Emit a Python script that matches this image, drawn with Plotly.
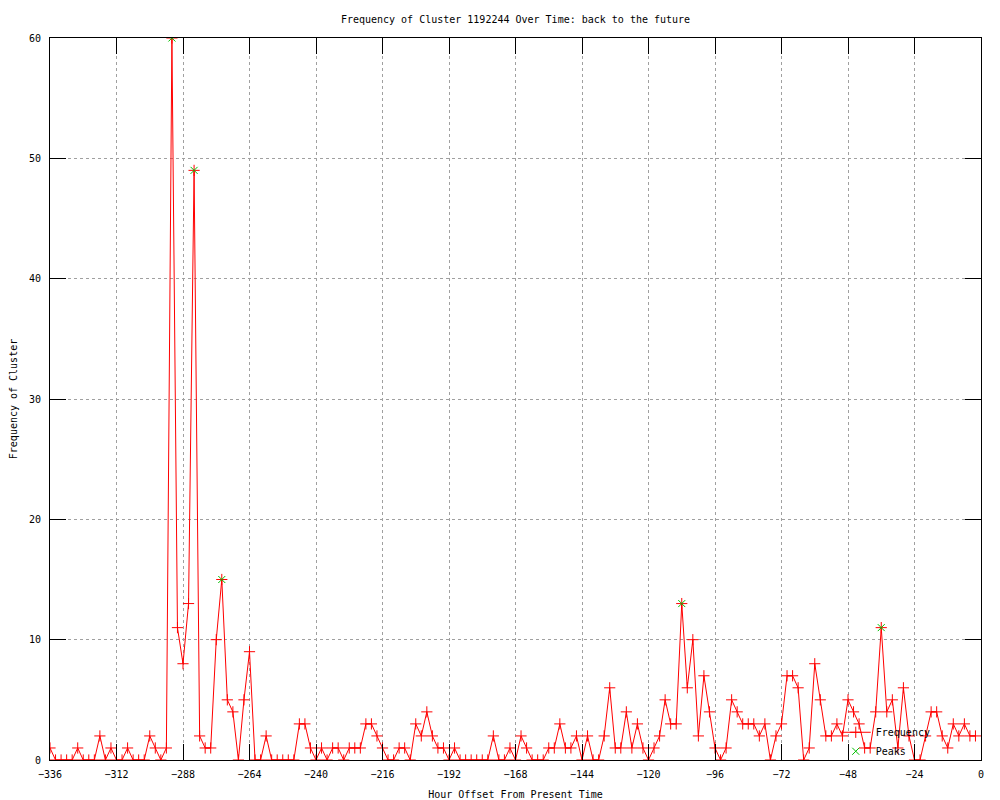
import plotly.graph_objects as go

# Hour offsets (every 2 hours) and cluster frequency
hours = list(range(-336, 0, 2))
frequency = [
    1, 0, 0, 0, 0, 1, 0, 0, 0, 2,
    0, 1, 0, 0, 1, 0, 0, 0, 2, 1,
    0, 1, 60, 11, 8, 13, 49, 2, 1, 1,
    10, 15, 5, 4, 0, 5, 9, 0, 0, 2,
    0, 0, 0, 0, 0, 3, 3, 1, 0, 1,
    0, 1, 1, 0, 1, 1, 1, 3, 3, 2,
    1, 0, 0, 1, 1, 0, 3, 2, 4, 2,
    1, 1, 0, 1, 0, 0, 0, 0, 0, 0,
    2, 0, 0, 1, 0, 2, 1, 0, 0, 0,
    1, 1, 3, 1, 1, 2, 0, 2, 0, 0,
    2, 6, 1, 1, 4, 1, 3, 1, 0, 1,
    2, 5, 3, 3, 13, 6, 10, 2, 7, 4,
    1, 0, 1, 5, 4, 3, 3, 3, 2, 3,
    0, 2, 3, 7, 7, 6, 0, 1, 8, 5,
    2, 2, 3, 2, 5, 4, 3, 1, 1, 4,
    11, 4, 5, 1, 6, 2, 0, 0, 2, 4,
    4, 2, 1, 3, 2, 3, 2, 2,
]
peak_hours = [-292, -284, -274, -108, -36]
peak_values = [60, 49, 15, 13, 11]

x_ticks = list(range(-336, 1, 24))
y_ticks = list(range(0, 61, 10))

FONT = "DejaVu Sans Mono"
W, H = 992, 792  # page body has an 8px margin

fig = go.Figure()
fig.add_trace(go.Scatter(
    x=hours, y=frequency, name="Frequency", mode="lines+markers",
    line=dict(color="#ff0000", width=1),
    marker=dict(symbol="cross-thin-open", size=8,
                line=dict(color="#ff0000", width=1), color="#ff0000"),
))
fig.add_trace(go.Scatter(
    x=peak_hours, y=peak_values, name="Peaks", mode="markers",
    marker=dict(symbol="x-thin-open", size=7,
                line=dict(color="#00c000", width=1), color="#00c000"),
))

axis_common = dict(
    showline=True, linecolor="black", linewidth=1, mirror="ticks",
    ticks="inside", ticklen=16, tickcolor="black", tickwidth=1,
    showgrid=True, gridcolor="#a0a0a0", griddash="dot", gridwidth=1,
    zeroline=False, automargin=False,
    tickfont=dict(family=FONT, size=10, color="black"),
)

fig.update_layout(
    width=W, height=H,
    paper_bgcolor="white", plot_bgcolor="white",
    margin=dict(l=42, r=19, t=30, b=40, autoexpand=False),
    title=dict(text="Frequency of Cluster 1192244 Over Time: back to the future",
               x=0.5, xref="paper", xanchor="center", y=1 - 11 / H,
               yref="container", yanchor="middle",
               font=dict(family=FONT, size=10, color="black")),
    xaxis=dict(range=[-336, 0], tickvals=x_ticks, ticklabelstandoff=5,
               title=dict(text="Hour Offset From Present Time", standoff=15,
                          font=dict(family=FONT, size=10, color="black")),
               **axis_common),
    yaxis=dict(range=[0, 60], tickvals=y_ticks, ticklabelstandoff=6,
               title=dict(text="Frequency of Cluster", standoff=9,
                          font=dict(family=FONT, size=10, color="black")),
               **axis_common),
    showlegend=True,
    legend=dict(x=0.844, y=-0.008, xanchor="left", yanchor="bottom",
                bgcolor="rgba(0,0,0,0)", borderwidth=0,
                font=dict(family=FONT, size=10, color="black"),
                tracegroupgap=0, itemwidth=30),
)

fig.write_html("out.html")
